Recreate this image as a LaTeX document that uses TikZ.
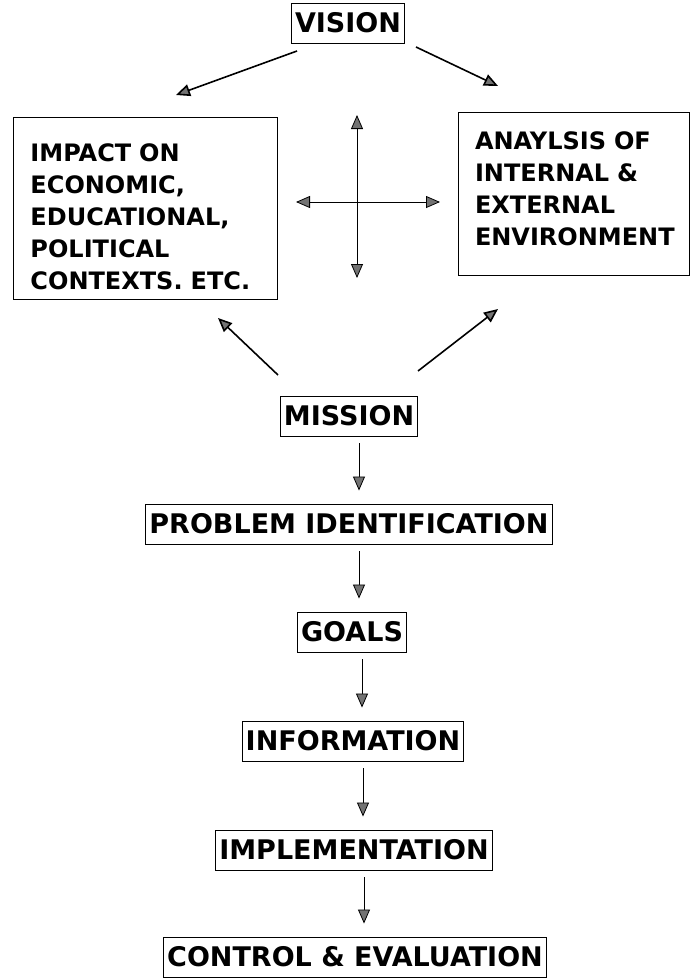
\documentclass[tikz,border=0pt]{standalone}
\usepackage{fontspec}
\setmainfont{DejaVu Sans}
\usetikzlibrary{arrows.meta}

\begin{document}
\begin{tikzpicture}[x=1pt, y=-1pt,
  flowbox/.style={draw, line width=0.9pt, inner xsep=3.5pt, minimum height=40pt,
    font=\fontsize{27}{30}\selectfont\bfseries},
  sidebox/.style={draw, line width=0.9pt, align=left, inner xsep=17pt,
    font=\fontsize{24}{32}\selectfont\bfseries},
  head/.tip={Triangle[length=14pt, width=12pt, fill=black!55]},
  flow/.style={-head, line width=0.8pt},
  slant/.style={-head, line width=1.6pt},
  cross/.style={head-head, line width=0.8pt}]
  \useasboundingbox (0,0) rectangle (691,980);

  % Top of the chart
  \node[flowbox] (vision) at (348,23) {VISION};
  \node[sidebox, text width=230pt, minimum height=182pt] (impact) at (145.5,208)
    {\rule{0pt}{36pt}IMPACT ON\\ECONOMIC,\\EDUCATIONAL,\\POLITICAL\\CONTEXTS. ETC.};
  \node[sidebox, text width=197pt, minimum height=163pt] (analysis) at (573.5,193.5)
    {ANAYLSIS OF\\INTERNAL \&\\EXTERNAL\\ENVIRONMENT\rule[-10pt]{0pt}{10pt}};

  % Chain of steps
  \node[flowbox] (mission) at (349,416) {MISSION};
  \node[flowbox] (problem) at (349,524) {PROBLEM IDENTIFICATION};
  \node[flowbox] (goals) at (352,632) {GOALS};
  \node[flowbox] (information) at (353,741) {INFORMATION};
  \node[flowbox] (implementation) at (354,850) {IMPLEMENTATION};
  \node[flowbox] (control) at (355,957) {CONTROL \& EVALUATION};

  % Free ends of the slanted and crossed arrows
  \coordinate (visionL) at (297,51);
  \coordinate (impactT) at (176,95);
  \coordinate (visionR) at (416,47);
  \coordinate (analysisT) at (498,86);
  \coordinate (missionL) at (278,375);
  \coordinate (impactB) at (218,318);
  \coordinate (missionR) at (418,371);
  \coordinate (analysisB) at (498,309);
  \coordinate (crossN) at (357,115);
  \coordinate (crossS) at (357,278);
  \coordinate (crossW) at (296,202);
  \coordinate (crossE) at (440,202);

  % Connect nodes
  \draw[slant] (visionL) -- (impactT);
  \draw[slant] (visionR) -- (analysisT);
  \draw[slant] (missionL) -- (impactB);
  \draw[slant] (missionR) -- (analysisB);
  \draw[cross] (crossN) -- (crossS);
  \draw[cross] (crossW) -- (crossE);
  \foreach \a/\b in {mission/problem, problem/goals, goals/information,
                     information/implementation, implementation/control}
    \draw[flow, shorten <=7pt, shorten >=13pt]
      ([xshift=10pt]\a.south) -- ([xshift=10pt]\a.south |- \b.north);
\end{tikzpicture}
\end{document}
